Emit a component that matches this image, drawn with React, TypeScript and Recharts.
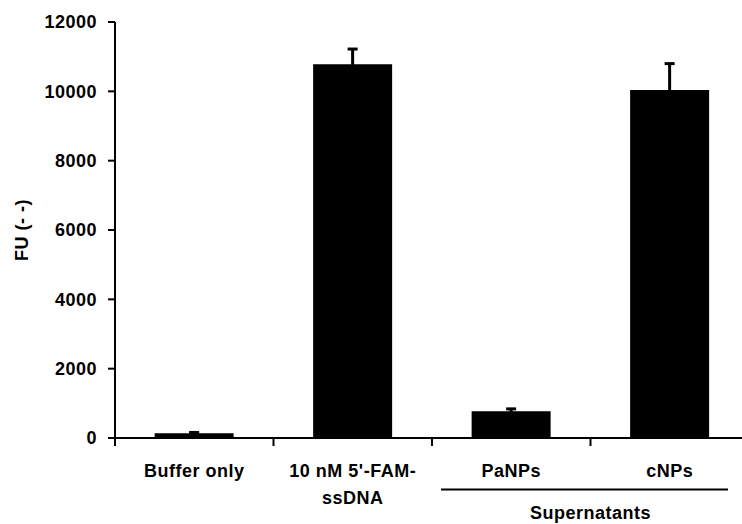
import React from "react";
import { BarChart, Bar, XAxis, YAxis, ErrorBar } from "recharts";

const categories = ["Buffer only", "10 nM 5'-FAM-ssDNA", "PaNPs", "cNPs"];
const fluorescence = [140, 10780, 775, 10040];
const fluorescenceErr = [20, 440, 65, 760];
const yTicks = [0, 2000, 4000, 6000, 8000, 10000, 12000];

const labelLines: Record<string, string[]> = {
  "10 nM 5'-FAM-ssDNA": ["10 nM 5'-FAM-", "ssDNA"],
};

const data = categories.map((name, i) => ({
  name,
  value: fluorescence[i],
  err: fluorescenceErr[i],
}));

const font = "'Liberation Sans', Arial, sans-serif";
const txt = { fontFamily: font, fontSize: 18, fontWeight: 700, fill: "#000", letterSpacing: 0.5 };

const W = 760;
const H = 524;
const plotLeft = 115;
const marginRight = 11;
const band = (W - plotLeft - marginRight) / categories.length;

function XTick(props: any) {
  const { x, y, payload, index } = props;
  const lines = labelLines[payload.value] || [payload.value];
  const left = x - band / 2;
  return (
    <g>
      <line x1={left} y1={y} x2={left} y2={y + 8} stroke="#000" strokeWidth={2} />
      {lines.map((l: string, i: number) => (
        <text key={i} x={x} y={y + 39 + i * 26.5} textAnchor="middle" style={txt}>
          {l}
        </text>
      ))}
      {index === 2 && (
        <g>
          <line x1={left + 9} y1={y + 51.5} x2={x + 1.5 * band - 21} y2={y + 51.5} stroke="#000" strokeWidth={2} />
          <text x={x + band / 2} y={y + 80.5} textAnchor="middle" style={txt}>
            Supernatants
          </text>
        </g>
      )}
    </g>
  );
}

function YLabel(props: any) {
  const { viewBox } = props;
  const cy = viewBox.y + viewBox.height / 2;
  const cx = 22;
  return (
    <text x={cx} y={cy} transform={`rotate(-90, ${cx}, ${cy})`} textAnchor="middle" dominantBaseline="central" style={txt}>
      FU (- -)
    </text>
  );
}

export default function App() {
  return (
    <div style={{ position: "absolute", left: 0, top: 0, width: 742, height: 524, overflow: "hidden", background: "#fff" }}>
      <BarChart
        width={W}
        height={H}
        data={data}
        margin={{ top: 22, right: marginRight, left: 0, bottom: 6 }}
        barCategoryGap="25%"
      >
        <XAxis
          dataKey="name"
          height={80}
          axisLine={{ stroke: "#000", strokeWidth: 2 }}
          tickLine={false}
          tickSize={0}
          tickMargin={0}
          tick={<XTick />}
          interval={0}
        />
        <YAxis
          width={plotLeft}
          domain={[0, 12000]}
          ticks={yTicks}
          interval={0}
          axisLine={{ stroke: "#000", strokeWidth: 2 }}
          tickLine={{ stroke: "#000", strokeWidth: 2 }}
          tickSize={7}
          tickMargin={11}
          tick={txt}
          label={<YLabel />}
        />
        <Bar dataKey="value" fill="#000" isAnimationActive={false}>
          <ErrorBar dataKey="err" direction="y" width={5} stroke="#000" strokeWidth={3} />
        </Bar>
      </BarChart>
    </div>
  );
}
